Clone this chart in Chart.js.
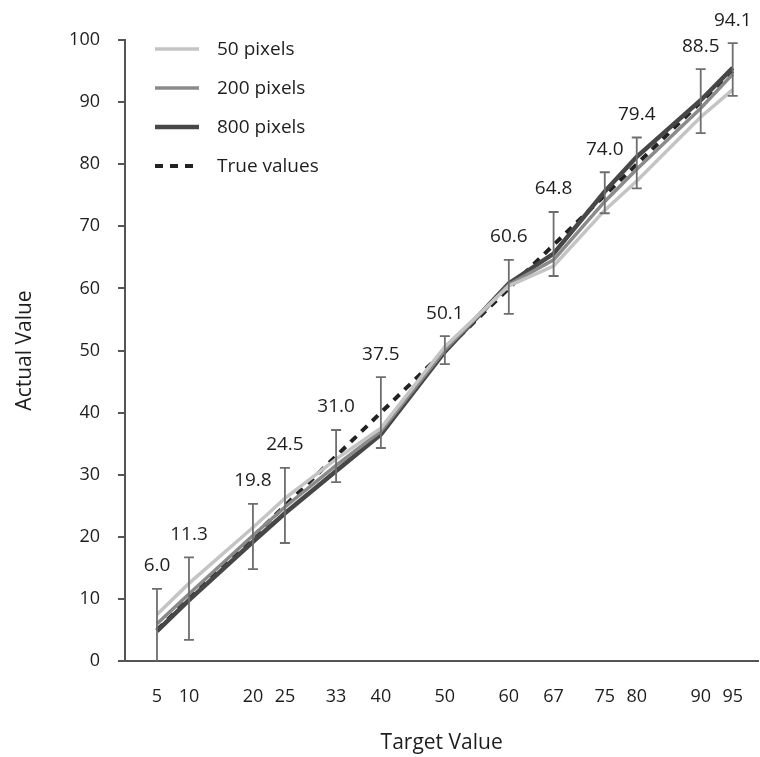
<!DOCTYPE html>
<html>
<head>
<meta charset="utf-8">
<script src="https://cdn.jsdelivr.net/npm/chart.js@4"></script>
<style>
    html, body { margin: 0; padding: 0; background: #fff; }
    #wrap { width: 760px; height: 757px; }
</style>
</head>
<body>
<div id="wrap"><canvas id="chart"></canvas></div>
<script>
// Target values (x) and the readings for each pixel count
const targets = [5, 10, 20, 25, 33, 40, 50, 60, 67, 75, 80, 90, 95];
const px50 = [7.5, 12.5, 21.5, 26.2, 32.5, 37.5, 50.6, 60.4, 63.6, 72.6, 77.3, 87.6, 92.0];
const px200 = [6.0, 10.8, 20.2, 24.8, 31.5, 37.0, 50.1, 60.6, 64.6, 74.0, 79.2, 89.0, 94.5];
const px800 = [4.8, 9.8, 19.2, 23.8, 30.6, 36.5, 49.8, 60.8, 65.6, 75.6, 81.2, 90.3, 95.5];
const trueValues = [5, 10, 20, 25, 33, 40, 50, 60, 67, 75, 80, 90, 95];
const errLow = [0, 3.4, 14.8, 19.0, 28.8, 34.3, 47.8, 55.9, 62.0, 72.1, 76.1, 85.0, 91.0];
const errHigh = [11.6, 16.7, 25.3, 31.1, 37.2, 45.7, 52.3, 64.6, 72.3, 78.7, 84.3, 95.3, 99.5];
const barLabels = ['6.0', '11.3', '19.8', '24.5', '31.0', '37.5', '50.1', '60.6', '64.8', '74.0', '79.4', '88.5', '94.1'];
const yTicks = [0, 10, 20, 30, 40, 50, 60, 70, 80, 90, 100];

const FONT = '"Open Sans", "Noto Sans", sans-serif';
const TEXT = '#1e1e1e';
const AXIS = '#555';

function pts(ys) {
    return targets.map((x, i) => ({ x: x, y: ys[i] }));
}

// error bars + value labels above them
const errorBars = {
    id: 'errorBars',
    afterDatasetsDraw(chart) {
        const { ctx, scales: { x, y } } = chart;
        ctx.save();
        ctx.strokeStyle = '#6e6e6e';
        ctx.lineWidth = 1.8;
        targets.forEach((t, i) => {
            const px = x.getPixelForValue(t);
            const top = y.getPixelForValue(errHigh[i]);
            const bot = y.getPixelForValue(errLow[i]);
            ctx.beginPath();
            ctx.moveTo(px, top); ctx.lineTo(px, bot);
            ctx.moveTo(px - 5, top); ctx.lineTo(px + 5, top);
            if (errLow[i] > 0) { ctx.moveTo(px - 5, bot); ctx.lineTo(px + 5, bot); }
            ctx.stroke();
        });
        ctx.fillStyle = TEXT;
        ctx.font = '19px ' + FONT;
        ctx.textAlign = 'center';
        ctx.textBaseline = 'middle';
        targets.forEach((t, i) => {
            ctx.fillText(barLabels[i], x.getPixelForValue(t), y.getPixelForValue(errHigh[i]) - 23);
        });
        ctx.restore();
    }
};

// legend sits inside the plot, top left
const insideLegend = {
    id: 'insideLegend',
    afterDraw(chart) {
        const { ctx } = chart;
        ctx.save();
        ctx.font = '19px ' + FONT;
        ctx.textBaseline = 'middle';
        ctx.textAlign = 'left';
        chart.data.datasets.forEach((ds, i) => {
            const yy = 49 + i * 39;
            ctx.beginPath();
            ctx.strokeStyle = ds.borderColor;
            ctx.lineWidth = ds.borderWidth;
            ctx.setLineDash(ds.borderDash || []);
            ctx.moveTo(155, yy); ctx.lineTo(199, yy);
            ctx.stroke();
            ctx.setLineDash([]);
            ctx.fillStyle = TEXT;
            ctx.fillText(ds.label, 217, yy + 1);
        });
        ctx.restore();
    }
};

new Chart(document.getElementById('chart'), {
    type: 'line',
    data: {
        datasets: [
            { label: '50 pixels', data: pts(px50), borderColor: '#c4c4c4', borderWidth: 3.5 },
            { label: '200 pixels', data: pts(px200), borderColor: '#8a8a8a', borderWidth: 3.5 },
            { label: '800 pixels', data: pts(px800), borderColor: '#474747', borderWidth: 4.5 },
            { label: 'True values', data: pts(trueValues), borderColor: '#222', borderWidth: 4, borderDash: [8, 7] }
        ]
    },
    options: {
        responsive: true,
        maintainAspectRatio: false,
        animation: false,
        layout: { padding: { top: 40, right: 0, left: 0, bottom: 0 } },
        elements: { point: { radius: 0 }, line: { tension: 0 } },
        scales: {
            x: {
                type: 'linear',
                min: 0,
                max: 99,
                afterBuildTicks: (scale) => { scale.ticks = targets.map(v => ({ value: v })); },
                afterFit: (scale) => { scale.height = 96; },
                grid: { display: false },
                border: { display: true, color: AXIS, width: 2 },
                ticks: { color: TEXT, font: { family: FONT, size: 18 }, padding: 17, maxRotation: 0, autoSkip: false },
                title: { display: true, text: 'Target Value', color: TEXT, font: { family: FONT, size: 21 }, padding: { top: 0, bottom: 1 } }
            },
            y: {
                min: 0,
                max: 100,
                afterBuildTicks: (scale) => { scale.ticks = yTicks.map(v => ({ value: v })); },
                afterFit: (scale) => { scale.width = 125; },
                grid: { display: true, drawOnChartArea: false, drawTicks: true, tickLength: 7, color: AXIS, lineWidth: 2 },
                border: { display: true, color: AXIS, width: 2 },
                ticks: { color: TEXT, font: { family: FONT, size: 18 }, padding: 18 },
                title: { display: true, text: 'Actual Value', color: TEXT, font: { family: FONT, size: 21 }, padding: { top: 12, bottom: 0 } }
            }
        },
        plugins: {
            legend: { display: false },
            tooltip: { enabled: false }
        }
    },
    plugins: [errorBars, insideLegend]
});
</script>
</body>
</html>
